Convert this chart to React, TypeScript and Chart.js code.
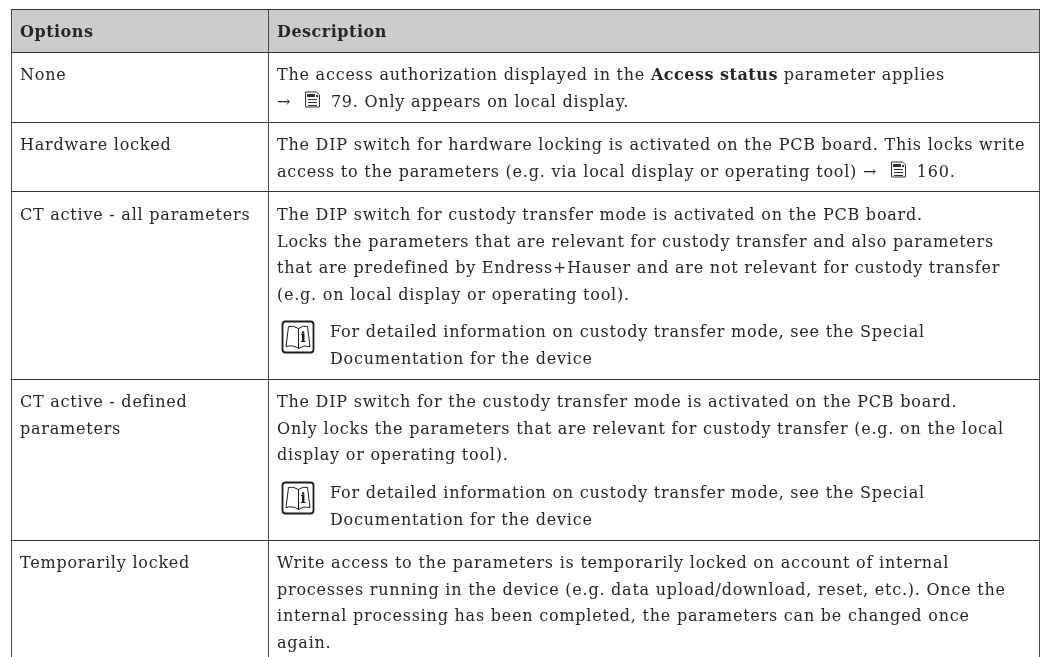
import React, { useEffect, useRef } from "react";
import { Chart, registerables } from "chart.js";

Chart.register(...registerables);

// Table content
const headers = ["Options", "Description"];
const options = [
  ["None"],
  ["Hardware locked"],
  ["CT active - all parameters"],
  ["CT active - defined", "parameters"],
  ["Temporarily locked"],
];
const noteLines = [
  "For detailed information on custody transfer mode, see the Special",
  "Documentation for the device",
];
const noneDescription = [
  ["The access authorization displayed in the ", "*Access status", " parameter applies"],
  ["→ ", "@page", " 79. Only appears on local display."],
];
const hardwareDescription = [
  ["The DIP switch for hardware locking is activated on the PCB board. This locks write"],
  ["access to the parameters (e.g. via local display or operating tool) → ", "@page", " 160."],
];
const ctAllDescription = [
  ["The DIP switch for custody transfer mode is activated on the PCB board."],
  ["Locks the parameters that are relevant for custody transfer and also parameters"],
  ["that are predefined by Endress+Hauser and are not relevant for custody transfer"],
  ["(e.g. on local display or operating tool)."],
];
const ctDefinedDescription = [
  ["The DIP switch for the custody transfer mode is activated on the PCB board."],
  ["Only locks the parameters that are relevant for custody transfer (e.g. on the local"],
  ["display or operating tool)."],
];
const temporaryDescription = [
  ["Write access to the parameters is temporarily locked on account of internal"],
  ["processes running in the device (e.g. data upload/download, reset, etc.). Once the"],
  ["internal processing has been completed, the parameters can be changed once"],
  ["again."],
];

// Table layout on the value scales
const columnEdges = [11, 268, 1039];
const rowEdges = [9, 52, 122, 192, 379, 540];
const rowNotes = [null, null, 337, 498, null];
const rowFirstLine = [80, 150, 220, 407, 568];
const descriptions = [noneDescription, hardwareDescription, ctAllDescription, ctDefinedDescription, temporaryDescription];

const FONT = '"DejaVu Serif"';
const SIZE = 16;
const SPACING = "0.77px";
const BOLD_SPACING = "0.5px";
const PITCH = 26.5;
const INK = "#262626";

function drawPage(ctx: CanvasRenderingContext2D, x: number, base: number) {
  ctx.save();
  ctx.strokeStyle = "#333";
  ctx.fillStyle = "#333";
  ctx.lineWidth = 1;
  ctx.beginPath();
  ctx.moveTo(x + 0.5, base - 14.5);
  ctx.lineTo(x + 11.5, base - 14.5);
  ctx.lineTo(x + 14.5, base - 11.5);
  ctx.lineTo(x + 14.5, base + 0.5);
  ctx.lineTo(x + 0.5, base + 0.5);
  ctx.closePath();
  ctx.stroke();
  const top = Math.round(base);
  ctx.fillRect(x + 2, top - 13, 8, 3);
  ctx.fillRect(x + 11, top - 12, 2, 2);
  for (let i = 0; i < 3; i++) ctx.fillRect(x + 3, top - 8 + i * 3, 9, 1);
  ctx.restore();
}

function drawBook(ctx: CanvasRenderingContext2D, x: number, y: number) {
  ctx.save();
  ctx.strokeStyle = "#1c1c1c";
  ctx.fillStyle = "#1c1c1c";
  ctx.lineWidth = 1.8;
  ctx.beginPath();
  ctx.roundRect(x, y, 31, 31, 3);
  ctx.stroke();
  ctx.lineWidth = 1;
  ctx.beginPath();
  ctx.moveTo(x + 16, y + 7);
  ctx.quadraticCurveTo(x + 10, y + 3.5, x + 6, y + 5);
  ctx.lineTo(x + 3.5, y + 25);
  ctx.quadraticCurveTo(x + 11, y + 23, x + 16, y + 27);
  ctx.quadraticCurveTo(x + 21, y + 23, x + 27.5, y + 25);
  ctx.lineTo(x + 25, y + 5);
  ctx.quadraticCurveTo(x + 21, y + 3.5, x + 16, y + 7);
  ctx.lineTo(x + 16, y + 27);
  ctx.stroke();
  ctx.font = `bold 14px ${FONT}`;
  ctx.textAlign = "center";
  ctx.fillText("i", x + 21, y + 20);
  ctx.restore();
}

function setFont(ctx: any, bold: boolean) {
  ctx.font = `${bold ? "bold " : ""}${SIZE}px ${FONT}`;
  ctx.letterSpacing = bold ? BOLD_SPACING : SPACING;
}

function drawLine(ctx: CanvasRenderingContext2D, parts: string[], x: number, y: number) {
  let cx = x;
  for (const part of parts) {
    if (part === "@page") {
      cx += 8;
      drawPage(ctx, Math.round(cx), y);
      cx += 20;
      continue;
    }
    const bold = part.startsWith("*");
    const text = bold ? part.slice(1) : part;
    setFont(ctx, bold);
    ctx.fillText(text, cx, y);
    cx += ctx.measureText(text).width;
  }
}

const tablePlugin = {
  id: "tableCells",
  beforeDraw(chart: any) {
    const { ctx, scales } = chart;
    const X = (v: number) => scales.x.getPixelForValue(v);
    const Y = (v: number) => scales.y.getPixelForValue(v);
    ctx.save();
    ctx.fillStyle = "#cccccc";
    ctx.fillRect(X(columnEdges[0]), Y(rowEdges[0]), X(columnEdges[2]) - X(columnEdges[0]), Y(rowEdges[1]) - Y(rowEdges[0]));
    ctx.restore();
  },
  afterDraw(chart: any) {
    const { ctx, scales } = chart;
    const X = (v: number) => scales.x.getPixelForValue(v);
    const Y = (v: number) => scales.y.getPixelForValue(v);
    const left = X(columnEdges[0]) + 9;
    const mid = X(columnEdges[1]) + 9;
    ctx.save();
    ctx.fillStyle = INK;
    ctx.textBaseline = "alphabetic";
    ctx.textAlign = "left";
    setFont(ctx, true);
    ctx.fillText(headers[0], left, Y(37));
    ctx.fillText(headers[1], mid, Y(37));
    options.forEach((lines, r) => {
      const base = rowFirstLine[r];
      setFont(ctx, false);
      lines.forEach((l, i) => ctx.fillText(l, left, Y(base + i * PITCH)));
      descriptions[r].forEach((parts, i) => drawLine(ctx, parts, mid, Y(base + i * PITCH)));
      const note = rowNotes[r];
      if (note !== null) {
        drawBook(ctx, mid + 5.5, Y(note - 15.5));
        setFont(ctx, false);
        noteLines.forEach((l, i) => ctx.fillText(l, mid + 53, Y(note + i * PITCH)));
      }
    });
    ctx.restore();
  },
};

export default function App() {
  const ref = useRef<HTMLCanvasElement>(null);
  useEffect(() => {
    const chart = new Chart(ref.current!, {
      type: "scatter",
      data: { datasets: [{ data: [], showLine: false }] },
      plugins: [tablePlugin],
      options: {
        animation: false,
        responsive: false,
        layout: { padding: { left: 11, right: 4, top: 9, bottom: 0 } },
        plugins: { legend: { display: false }, tooltip: { enabled: false } },
        scales: {
          x: {
            type: "linear",
            min: columnEdges[0],
            max: columnEdges[2],
            afterBuildTicks: (a: any) => { a.ticks = columnEdges.map((value) => ({ value })); },
            ticks: { display: false },
            border: { display: false },
            grid: { color: "#4a4a4a", lineWidth: 1, drawTicks: false },
          },
          y: {
            type: "linear",
            reverse: true,
            min: rowEdges[0],
            max: 657,
            afterBuildTicks: (a: any) => { a.ticks = rowEdges.map((value) => ({ value })); },
            ticks: { display: false },
            border: { display: false },
            grid: { color: "#333333", lineWidth: 1, drawTicks: false },
          },
        },
      },
    });
    return () => chart.destroy();
  }, []);
  return (
    <div style={{ position: "fixed", left: 0, top: 0, width: 1043, height: 657, background: "#fff" }}>
      <canvas ref={ref} width={1043} height={657} style={{ display: "block" }} />
    </div>
  );
}
